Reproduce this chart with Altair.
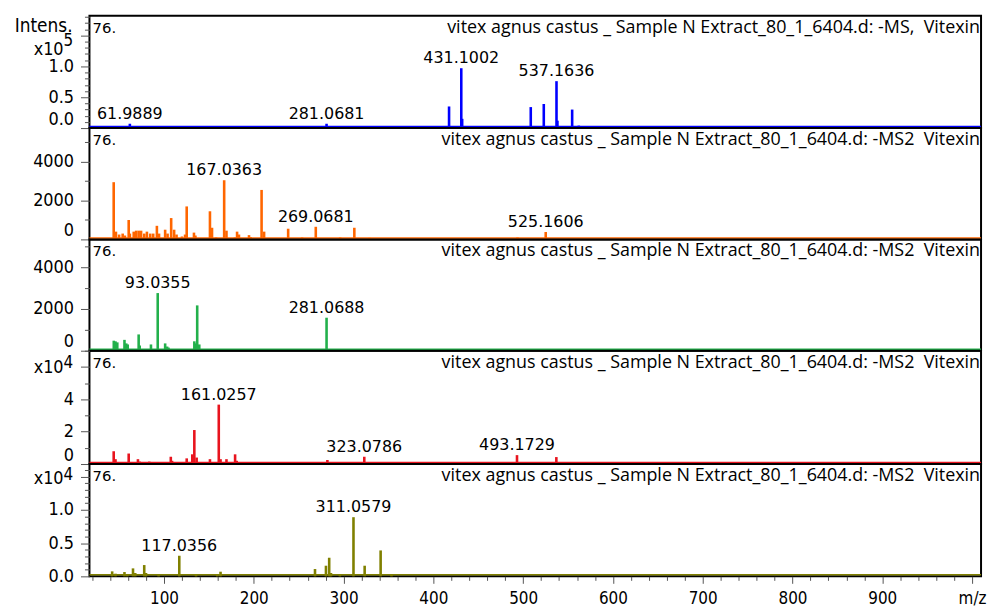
import altair as alt
import pandas as pd

# ---------------- data ----------------
MZ_DOMAIN = [17, 1010]
X_TICKS = [20, 40, 60, 80, 100, 120, 140, 160, 180, 200, 220, 240, 260, 280, 300,
           320, 340, 360, 380, 400, 420, 440, 460, 480, 500, 520, 540, 560, 580, 600,
           620, 640, 660, 680, 700, 720, 740, 760, 780, 800, 820, 840, 860, 880, 900,
           920, 940, 960, 980, 1000]
X_MAJOR_STEP = 100
X_LAST_LABEL = "m/z"

TITLE_MS = "vitex agnus castus _ Sample N Extract_80_1_6404.d: -MS,\u00a0 Vitexin"
TITLE_MS2 = "vitex agnus castus _ Sample N Extract_80_1_6404.d: -MS2\u00a0 Vitexin"
SCAN_LABEL = "76."

colors = ["#0000ff", "#ff6600", "#22b04b", "#e8141e", "#808000"]

# panel 1: -MS (x10^5)
p1_mz = [61.9889, 281.0681, 417.5, 431.1002, 432.1, 481.5, 508.5, 523.0, 537.1636, 538.2, 554.6, 562.0, 955.0]
p1_int = [0.07, 0.07, 0.35, 0.97, 0.15, 0.03, 0.34, 0.39, 0.76, 0.12, 0.30, 0.04, 0.03]
p1_labels = [61.9889, 281.0681, 431.1002, 537.1636]
p1_yticks = [0.0, 0.1, 0.2, 0.3, 0.4, 0.5, 0.6, 0.7, 0.8, 0.9, 1.0, 1.1, 1.2, 1.3, 1.4, 1.5, 1.6, 1.7, 1.8]
p1_ystep = 0.5
p1_ylabel_max = 1.0

# panel 2: -MS2 (orange)
p2_mz = [44.0, 46.5, 50.0, 54.0, 56.5, 60.7, 62.0, 66.3, 69.0, 71.8, 74.5, 78.0, 81.0, 84.7, 88.0,
         92.1, 94.5, 101.3, 104.0, 108.0, 111.3, 114.0, 120.0, 123.5, 125.3, 133.4, 135.0, 151.2,
         153.5, 158.0, 167.0363, 169.6, 179.0, 181.4, 183.5, 194.7, 196.5, 208.7, 211.5, 238.3,
         253.8, 269.0681, 296.2, 312.0, 329.0, 420.0, 493.7, 525.1606]
p2_int = [2950, 400, 250, 300, 200, 1000, 300, 400, 450, 450, 450, 300, 400, 300, 300,
          700, 300, 500, 300, 1100, 500, 250, 150, 250, 1700, 350, 200, 1450,
          600, 100, 3050, 450, 100, 400, 250, 220, 120, 2550, 400, 550,
          100, 650, 100, 600, 80, 50, 100, 380]
p2_labels = [167.0363, 269.0681, 525.1606]
p2_yticks = [0, 1000, 2000, 3000, 4000, 5000]
p2_ystep = 2000
p2_ylabel_max = 4000

# panel 3: -MS2 (green)
p3_mz = [44.1, 46.0, 48.0, 56.0, 58.0, 59.6, 71.8, 73.0, 85.5, 93.0355, 101.3, 103.5, 105.0,
         114.0, 133.8, 135.5, 137.0, 139.3, 179.2, 208.7, 281.0688, 871.0]
p3_int = [480, 450, 400, 520, 350, 300, 780, 250, 300, 2760, 350, 200, 150,
          80, 450, 350, 2170, 300, 80, 80, 1580, 30]
p3_labels = [93.0355, 281.0688]
p3_yticks = [0, 1000, 2000, 3000, 4000, 5000]
p3_ystep = 2000
p3_ylabel_max = 4000

# panel 4: -MS2 (red, x10^4)
p4_mz = [44.0, 46.0, 56.0, 60.7, 71.0, 73.0, 83.6, 107.6, 109.0, 125.3, 131.5, 133.8, 136.4,
         151.2, 161.0257, 163.0, 169.6, 179.2, 181.0, 220.6, 282.0, 323.0786, 493.1729, 537.0]
p4_int = [0.79, 0.30, 0.10, 0.65, 0.30, 0.15, 0.15, 0.45, 0.20, 0.35, 0.60, 2.10, 0.40,
          0.30, 3.67, 0.30, 0.30, 0.60, 0.20, 0.10, 0.25, 0.45, 0.55, 0.43]
p4_labels = [161.0257, 323.0786, 493.1729]
p4_yticks = [0, 1, 2, 3, 4, 5, 6, 7]
p4_ystep = 2
p4_ylabel_max = 4

# panel 5: -MS2 (olive, x10^4)
p5_mz = [42.3, 46.0, 56.0, 59.0, 65.5, 68.0, 78.0, 80.0, 94.0, 117.0356, 135.7, 159.3, 163.0,
         268.2, 280.4, 284.0, 286.0, 295.9, 311.0579, 323.5, 341.3, 353.4]
p5_int = [0.075, 0.04, 0.065, 0.03, 0.12, 0.05, 0.17, 0.05, 0.03, 0.31, 0.03, 0.03, 0.07,
          0.11, 0.16, 0.28, 0.05, 0.03, 0.89, 0.16, 0.39, 0.03]
p5_labels = [117.0356, 311.0579]
p5_yticks = [0.0, 0.1, 0.2, 0.3, 0.4, 0.5, 0.6, 0.7, 0.8, 0.9, 1.0, 1.1, 1.2, 1.3, 1.4, 1.5, 1.6]
p5_ystep = 0.5
p5_ylabel_max = 1.0

# ---------------- layout / style ----------------
PLOT_W = 897
HEIGHTS = [113, 112, 112, 114, 113]
Y_MAX = [1.82, 5740, 5330, 7.0, 1.69]
AX_FONT = "DejaVu Sans Condensed, DejaVu Sans"
PEAK_FONT = "DejaVu Sans"
TITLE_FONT = "Open Sans"
TICK_COLOR = "#555555"

one_row = pd.DataFrame({"k": [0]})


def is_major(step):
    return f"abs(round(datum.value / {step}) - datum.value / {step}) < 1e-6"


def panel(idx, mz, inten, labels, yticks, ystep, ylabel_max, yfmt, ymax, title, exponent, show_x, flush):
    color = colors[idx]
    h = HEIGHTS[idx]
    df = pd.DataFrame({"mz": mz, "intensity": inten})
    lab = df[df["mz"].isin(labels)]

    if show_x:
        xaxis = alt.Axis(
            values=X_TICKS,
            labelExpr=f"datum.value == 1000 ? '{X_LAST_LABEL}' : ({is_major(X_MAJOR_STEP)} ? format(datum.value, 'd') : '')",
            tickSize={"condition": {"test": is_major(X_MAJOR_STEP), "value": 7}, "value": 4},
            tickColor=TICK_COLOR, domain=False, grid=False, title=None,
            labelFont=AX_FONT, labelFontSize=17, labelColor="black", labelPadding=7,
            labelOverlap=False, labelFlush=False, labelBound=False,
        )
    else:
        xaxis = None
    x = alt.X("mz:Q", scale=alt.Scale(domain=MZ_DOMAIN, nice=False, zero=False), axis=xaxis)
    y = alt.Y(
        "intensity:Q",
        scale=alt.Scale(domain=[0, ymax], nice=False),
        axis=alt.Axis(
            values=yticks,
            labelExpr=f"({is_major(ystep)}) && datum.value <= {ylabel_max} ? format(datum.value, '{yfmt}') : ''",
            tickSize={"condition": {"test": is_major(ystep), "value": 9}, "value": 5},
            tickColor=TICK_COLOR, domain=False, grid=False, title=None,
            labelFont=AX_FONT, labelFontSize=18, labelColor="black", labelPadding=7,
            labelOverlap=False, labelFlush=flush, labelBound=False,
        ),
    )

    baseline = alt.Chart(one_row).mark_rule(color=color, strokeWidth=1.5).encode(
        x=alt.value(0), x2=alt.value(PLOT_W), y=alt.value(h - 1.5)
    )
    peaks = alt.Chart(df).mark_rule(color=color, strokeWidth=2.6).encode(
        x=x, y=y, y2=alt.datum(0)
    )
    peak_text = alt.Chart(lab).mark_text(
        font=PEAK_FONT, fontSize=16, color="black", baseline="alphabetic", dy=-5
    ).encode(x=x, y=y, text=alt.Text("mz:Q", format=".4f"))

    scan = alt.Chart(one_row).mark_text(
        font=PEAK_FONT, fontSize=15, color="black", align="left", baseline="middle"
    ).encode(x=alt.value(3), y=alt.value(12), text=alt.value(SCAN_LABEL))
    ttl = alt.Chart(one_row).mark_text(
        font=TITLE_FONT, fontSize=18, color="black", align="right", baseline="middle"
    ).encode(x=alt.value(PLOT_W - 1), y=alt.value(12), text=alt.value(title))

    layers = [peaks, baseline, peak_text, scan, ttl]

    if idx == 0:
        layers.append(alt.Chart(one_row).mark_text(
            font=AX_FONT, fontSize=19, color="black", align="right", baseline="middle"
        ).encode(x=alt.value(-17), y=alt.value(10), text=alt.value("Intens.")))
    if exponent is not None:
        exp_txt, y_base, y_exp = exponent
        layers.append(alt.Chart(one_row).mark_text(
            font=AX_FONT, fontSize=18, color="black", align="right", baseline="middle"
        ).encode(x=alt.value(-26), y=alt.value(y_base), text=alt.value("x10")))
        layers.append(alt.Chart(one_row).mark_text(
            font=AX_FONT, fontSize=17, color="black", align="left", baseline="middle"
        ).encode(x=alt.value(-26), y=alt.value(y_exp), text=alt.value(exp_txt)))

    return alt.layer(*layers).properties(width=PLOT_W, height=h)


panels = [
    panel(0, p1_mz, p1_int, p1_labels, p1_yticks, p1_ystep, p1_ylabel_max, ".1f", Y_MAX[0], TITLE_MS, ("5", 34, 25), False, True),
    panel(1, p2_mz, p2_int, p2_labels, p2_yticks, p2_ystep, p2_ylabel_max, "d", Y_MAX[1], TITLE_MS2, None, False, True),
    panel(2, p3_mz, p3_int, p3_labels, p3_yticks, p3_ystep, p3_ylabel_max, "d", Y_MAX[2], TITLE_MS2, None, False, True),
    panel(3, p4_mz, p4_int, p4_labels, p4_yticks, p4_ystep, p4_ylabel_max, "d", Y_MAX[3], TITLE_MS2, ("4", 17, 12), False, True),
    panel(4, p5_mz, p5_int, p5_labels, p5_yticks, p5_ystep, p5_ylabel_max, ".1f", Y_MAX[4], TITLE_MS2, ("4", 15, 11), True, False),
]

chart = alt.vconcat(*panels, spacing=0, bounds="flush").properties(
    padding={"left": 13, "top": 5, "right": 0, "bottom": 0},
    background="white",
).configure_view(stroke="black", strokeWidth=2)

chart.save("out.html", embed_options={"renderer": "svg", "actions": False})
